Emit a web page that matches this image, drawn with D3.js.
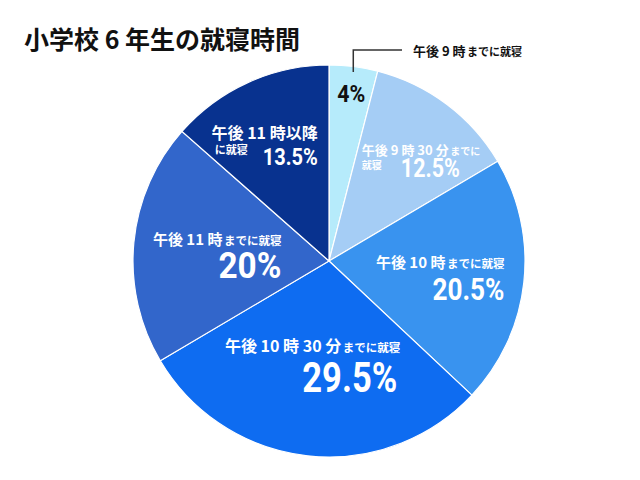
<!DOCTYPE html>
<html>
<head>
<meta charset="utf-8">
<script src="https://cdn.jsdelivr.net/npm/d3@7"></script>
<style>
  body { margin: 0; background: #fff; }
  svg { display: block; }
  .jp { font-family: "Noto Sans CJK JP", sans-serif; font-weight: 700; }
  .pct { font-family: Roboto, "Liberation Sans", sans-serif; font-weight: 700; }
</style>
</head>
<body>
<div id="chart"></div>
<script>
const categories = ['午後 9 時までに就寝', '午後 9 時 30 分までに就寝', '午後 10 時までに就寝',
    '午後 10 時 30 分までに就寝', '午後 11 時までに就寝', '午後 11 時以降に就寝'];
const values = [4, 12.5, 20.5, 29.5, 20, 13.5];
const pctLabels = ['4%', '12.5%', '20.5%', '29.5%', '20%', '13.5%'];
const colors = ['#b6ebfb', '#a5cdf5', '#3993ef', '#0e6cf1', '#3266cb', '#08328f'];
const title = '小学校 6 年生の就寝時間';

// label text split into lines, each segment [text, font size]
const labelLines = [
    [],
    [[['午後 9 時 30 分', 13], ['までに', 10]], [['就寝', 10]]],
    [[['午後 10 時', 15], ['までに就寝', 11.5]]],
    [[['午後 10 時 30 分', 16], ['までに就寝', 11.5]]],
    [[['午後 11 時', 15], ['までに就寝', 11.5]]],
    [[['午後 11 時以降', 16]], [['に就寝', 11]]]
];

const width = 640;
const height = 480;
const cx = 329, cy = 261, R = 196;

const svg = d3.select('#chart')
    .append('svg')
        .attr('width', width)
        .attr('height', height);

svg.append('text')
    .attr('class', 'jp')
    .attr('x', 24)
    .attr('y', 49)
    .attr('font-size', 25)
    .attr('font-weight', 900)
    .attr('fill', '#111')
    .text(title);

const pie = d3.pie().sort(null).value(d => d);
const arcs = pie(values);
const arc = d3.arc().innerRadius(0).outerRadius(R);

const g = svg.append('g')
    .attr('transform', `translate(${cx},${cy})`);

g.selectAll('path')
    .data(arcs)
    .join('path')
        .attr('d', arc)
        .attr('fill', (d, i) => colors[i])
        .attr('stroke', '#fff')
        .attr('stroke-width', 1.2);

// label placement, relative to each slice centroid
const lineLayout = [
    [],
    [{dx: -26, dy: -28, anchor: 'start'}, {dx: -26, dy: -14, anchor: 'start'}],
    [{dx: 78, dy: -4, anchor: 'end'}],
    [{dx: 82, dy: -6, anchor: 'end'}],
    [{dx: 50, dy: -7, anchor: 'end'}],
    [{dx: 29, dy: -33, anchor: 'end'}, {dx: -74, dy: -18, anchor: 'start'}]
];
// percentages drawn in a narrow face: w is the width they are squeezed to
const pctLayout = [
    {dx: 10, dy: -62, size: 23, w: 28, fill: '#111'},
    {dx: 72, dy: -6, size: 26, w: 59, fill: '#fff'},
    {dx: 78, dy: 28, size: 31, w: 72, fill: '#fff'},
    {dx: 79, dy: 34, size: 42, w: 95, fill: '#fff'},
    {dx: 50, dy: 26, size: 37, w: 63, fill: '#fff'},
    {dx: 29, dy: -7, size: 24, w: 55, fill: '#fff'}
];

arcs.forEach((d, i) => {
    const [mx, my] = arc.centroid(d);
    labelLines[i].forEach((line, j) => {
        const lay = lineLayout[i][j];
        const t = g.append('text')
            .attr('class', 'jp')
            .attr('x', mx + lay.dx)
            .attr('y', my + lay.dy)
            .attr('text-anchor', lay.anchor)
            .attr('fill', '#fff');
        line.forEach((seg, k) => {
            t.append('tspan')
                .attr('dx', k > 0 ? 1.5 : 0)
                .attr('font-size', seg[1])
                .text(seg[0]);
        });
    });
    const p = pctLayout[i];
    const pt = g.append('text')
        .attr('class', 'pct')
        .attr('text-anchor', i === 0 ? 'middle' : 'end')
        .attr('font-size', p.size)
        .attr('fill', p.fill)
        .text(pctLabels[i]);
    const k = p.w / pt.node().getComputedTextLength();
    pt.attr('transform', `translate(${mx + p.dx},${my + p.dy}) scale(${k},1)`);
});

// callout for the small first slice
const c0 = arc.centroid(arcs[0]);
const callX = c0[0] + 12;
g.append('path')
    .attr('d', `M${callX},${-189}V${-211}H${73}`)
    .attr('fill', 'none')
    .attr('stroke', '#333')
    .attr('stroke-width', 1.5);
g.append('text')
    .attr('class', 'jp')
    .attr('x', 84)
    .attr('y', -205)
    .attr('fill', '#111')
    .call(t => {
        t.append('tspan').attr('font-size', 13).text('午後 9 時');
        t.append('tspan').attr('dx', 1.5).attr('font-size', 11).text('までに就寝');
    });
</script>
</body>
</html>
